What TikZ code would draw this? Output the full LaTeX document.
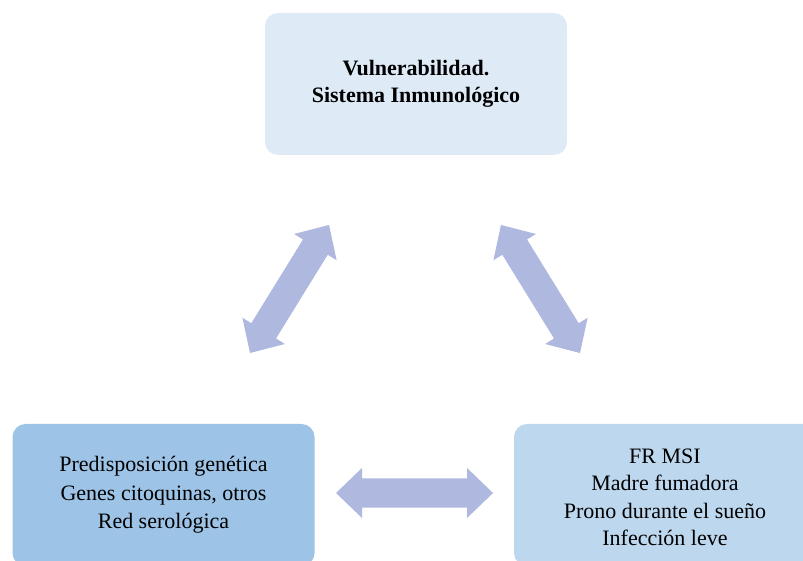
\documentclass[tikz,border=0pt]{standalone}
\usepackage{fontspec}
\setmainfont{Liberation Serif}
\usetikzlibrary{calc}

\definecolor{boxtop}{HTML}{DEEBF7}
\definecolor{boxleft}{HTML}{9DC3E6}
\definecolor{boxright}{HTML}{BDD7EE}
\definecolor{arrowfill}{HTML}{AFB9DF}

\tikzset{
  panel/.style={rounded corners=13pt, minimum width=302pt, minimum height=142pt,
    align=center, inner sep=0pt, font=\fontsize{22}{27.5}\selectfont},
  % wide two-headed block arrow between two points
  linkarrow/.style={fill=arrowfill,
    to path={let \p1=(\tikztostart), \p2=(\tikztotarget),
      \n1={atan2(\y2-\y1,\x2-\x1)}, \n2={veclen(\x2-\x1,\y2-\y1)} in
      -- ++({\n1+43.9}:36.1) -- ++({\n1-90}:10.5)
      -- ++(\n1:{\n2-52}) -- ++({\n1+90}:10.5)
      -- ++({\n1-43.9}:36.1) -- ++({\n1+223.9}:36.1)
      -- ++({\n1+90}:10.5) -- ++({\n1+180}:{\n2-52})
      -- ++({\n1-90}:10.5) -- cycle}}
}

\begin{document}
\begin{tikzpicture}[x=1pt,y=1pt]
  \useasboundingbox (0,0) rectangle (803,561);
  \clip (0,0) rectangle (803,561);

  \node[panel, fill=boxtop, font=\fontsize{22}{27.5}\selectfont\bfseries] (vuln) at (416,477)
    {Vulnerabilidad.\\Sistema Inmunológico};
  \node[panel, fill=boxleft, font=\fontsize{22}{28.5}\selectfont] (genet) at (163.5,66)
    {Predisposición genética\\Genes citoquinas, otros\\Red serológica};
  \node[panel, fill=boxright] (risk) at (665,66)
    {\rule{0pt}{19.6pt}FR MSI\\Madre fumadora\\Prono durante el sueño\\Infección leve};

  \coordinate (gv1) at (250,208);
  \coordinate (gv2) at (329,336);
  \coordinate (vr1) at (501,336);
  \coordinate (vr2) at (580,208);
  \coordinate (gr1) at (336,68);
  \coordinate (gr2) at (493,68);

  \fill[linkarrow] (gv1) to (gv2);
  \fill[linkarrow] (vr1) to (vr2);
  \fill[linkarrow] (gr1) to (gr2);
\end{tikzpicture}
\end{document}
